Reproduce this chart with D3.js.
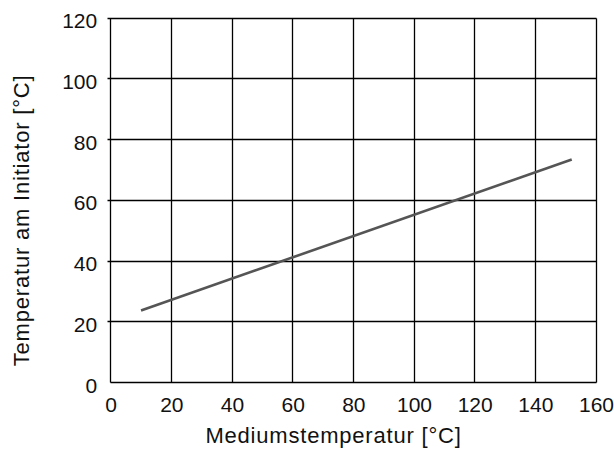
<!DOCTYPE html>
<html>
<head>
<meta charset="utf-8">
<script src="https://cdn.jsdelivr.net/npm/d3@7"></script>
<style>
  body { margin: 0; background: #fff; }
  svg { display: block; font-family: "Liberation Sans", Arial, Helvetica, sans-serif; }
  .grid line { stroke: #000; stroke-width: 1.3; }
  .tick text { font-size: 21px; fill: #111; }
  .axis-label { font-size: 22px; fill: #111; letter-spacing: 0.8px; }
</style>
</head>
<body>
<div id="chart"></div>
<script>
// Daten
var mediumTemp = [10, 152];          // x: Mediumstemperatur [°C]
var initiatorTemp = [23.7, 73.4];    // y: Temperatur am Initiator [°C]
var xTicks = [0, 20, 40, 60, 80, 100, 120, 140, 160];
var yTicks = [0, 20, 40, 60, 80, 100, 120];
var xTitle = 'Mediumstemperatur [°C]';
var yTitle = 'Temperatur am Initiator [°C]';

(function () {
  var width = 614, height = 450;
  var plotLeft = 110.7, plotRight = 596, plotTop = 18, plotBottom = 382.5;

  var svg = d3.select('#chart').append('svg')
    .attr('width', width)
    .attr('height', height);

  var x = d3.scaleLinear().domain([0, 160]).range([plotLeft, plotRight]);
  var y = d3.scaleLinear().domain([0, 120]).range([plotBottom, plotTop]);

  // Gitternetz: auf halbe Pixel legen, damit alle Linien gleich dick wirken
  function snap(v) { return Math.round(v - 0.5) + 0.5; }

  var grid = svg.append('g').classed('grid', true);
  grid.selectAll('line.v')
    .data(xTicks)
    .enter()
    .append('line')
    .attr('class', 'v')
    .attr('x1', function (d) { return snap(x(d)); })
    .attr('x2', function (d) { return snap(x(d)); })
    .attr('y1', snap(plotTop))
    .attr('y2', snap(plotBottom));
  grid.selectAll('line.h')
    .data(yTicks)
    .enter()
    .append('line')
    .attr('class', 'h')
    .attr('x1', function (d) { return d === 0 ? snap(plotLeft) : snap(plotLeft) - 3; })
    .attr('x2', snap(plotRight))
    .attr('y1', function (d) { return snap(y(d)); })
    .attr('y2', function (d) { return snap(y(d)); });

  // Achsenbeschriftung
  var xAxis = svg.append('g')
    .attr('transform', 'translate(0,' + plotBottom + ')')
    .call(d3.axisBottom(x).tickValues(xTicks).tickSize(0).tickPadding(0));
  xAxis.select('.domain').remove();
  xAxis.selectAll('.tick text')
    .attr('y', 29)
    .attr('dy', 0);

  var yAxis = svg.append('g')
    .attr('transform', 'translate(' + plotLeft + ',0)')
    .call(d3.axisLeft(y).tickValues(yTicks).tickSize(0).tickPadding(0));
  yAxis.select('.domain').remove();
  yAxis.selectAll('.tick text')
    .attr('x', -13.5)
    .attr('dy', '0.46em');

  // Messlinie
  var line = d3.line()
    .x(function (d) { return x(d[0]); })
    .y(function (d) { return y(d[1]); });
  svg.append('path')
    .datum(d3.zip(mediumTemp, initiatorTemp))
    .attr('d', line)
    .attr('fill', 'none')
    .attr('stroke', '#555')
    .attr('stroke-width', 2.6);

  // Titel
  svg.append('text')
    .attr('class', 'axis-label')
    .attr('x', 333.5)
    .attr('y', 443)
    .attr('text-anchor', 'middle')
    .text(xTitle);

  svg.append('text')
    .attr('class', 'axis-label')
    .attr('transform', 'translate(29.3,220.4) rotate(-90)')
    .attr('text-anchor', 'middle')
    .text(yTitle);
})();
</script>
</body>
</html>
